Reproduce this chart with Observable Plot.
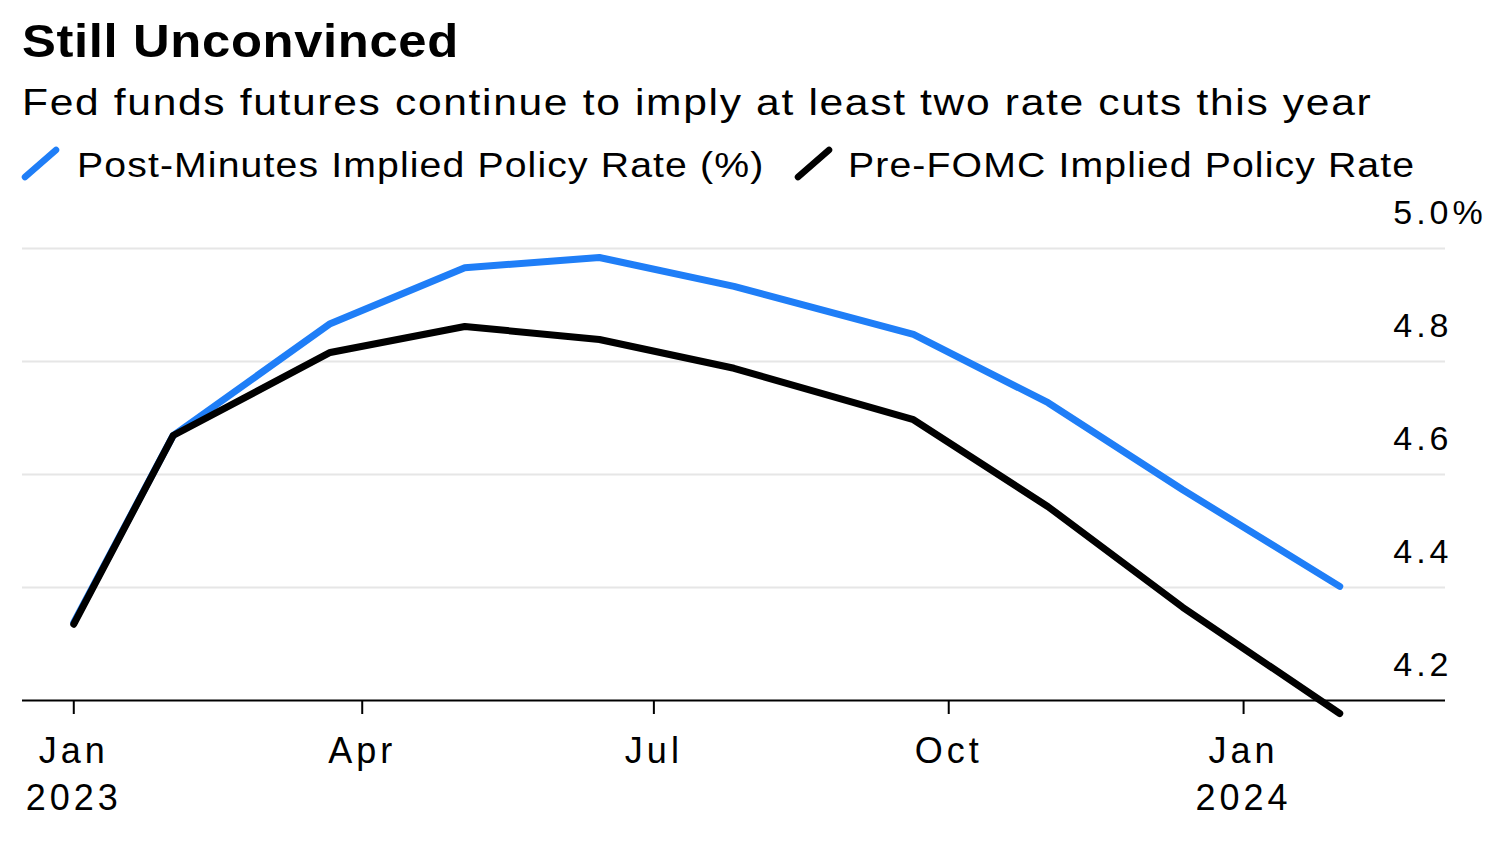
<!DOCTYPE html>
<html>
<head>
<meta charset="utf-8">
<script src="https://cdn.jsdelivr.net/npm/d3@7"></script>
<script src="https://cdn.jsdelivr.net/npm/@observablehq/plot@0.6"></script>
<style>
  html, body { margin: 0; padding: 0; background: #fff; }
  body { width: 1500px; height: 850px; position: relative; overflow: hidden; font-family: "Liberation Sans", Arial, sans-serif; color: #000; }
  .abs { position: absolute; white-space: nowrap; line-height: 1; transform-origin: 0 0; }
  #title { left: 22px; top: 17px; font-size: 47px; font-weight: bold; transform: scaleX(1.08); letter-spacing: 0.6px; }
  #subtitle { left: 22px; top: 84px; font-size: 37px; transform: scaleX(1.15); letter-spacing: 1.45px; }
  .legtext { top: 147px; font-size: 35px; transform: scaleX(1.12); letter-spacing: 1px; }
  .icon { position: absolute; top: 146px; }
  #chart { position: absolute; left: 0; top: 190px; }
</style>
</head>
<body>
<div id="title" class="abs">Still Unconvinced</div>
<div id="subtitle" class="abs">Fed funds futures continue to imply at least two rate cuts this year</div>
<svg class="icon" style="left:20px" width="42" height="36"><line x1="5" y1="31" x2="36" y2="4" stroke="#1f7ef7" stroke-width="6.5" stroke-linecap="round"/></svg>
<div class="abs legtext" style="left:77px">Post-Minutes Implied Policy Rate (%)</div>
<svg class="icon" style="left:793px" width="42" height="36"><line x1="5" y1="31" x2="36" y2="4" stroke="#000" stroke-width="6.5" stroke-linecap="round"/></svg>
<div class="abs legtext" style="left:848px">Pre-FOMC Implied Policy Rate</div>
<div id="chart"></div>
<script>
const dates = ["2023-01-01","2023-02-01","2023-03-22","2023-05-03","2023-06-14","2023-07-26","2023-09-20","2023-11-01","2023-12-13","2024-01-31"];
const postMinutes = [4.338, 4.669, 4.867, 4.966, 4.984, 4.933, 4.848, 4.727, 4.573, 4.402];
const preFOMC = [4.335, 4.669, 4.816, 4.862, 4.839, 4.788, 4.697, 4.543, 4.365, 4.177];
const yTicks = [4.2, 4.4, 4.6, 4.8, 5.0];
const xTicks = ["2023-01-01","2023-04-01","2023-07-01","2023-10-01","2024-01-01"];
const xTickLabels = ["Jan\n2023","Apr","Jul","Oct","Jan\n2024"];
const xDomain = ["2022-12-16","2024-03-04"];

const parse = d3.utcParse("%Y-%m-%d");
const post = dates.map((d, i) => ({date: parse(d), value: postMinutes[i]}));
const pre = dates.map((d, i) => ({date: parse(d), value: preFOMC[i]}));
const tickDates = xTicks.map(parse);

const chart = Plot.plot({
  width: 1500,
  height: 660,
  marginLeft: 22,
  marginRight: 55,
  marginTop: 58,
  marginBottom: 150,
  style: {fontFamily: "'Liberation Sans', Arial, sans-serif", color: "#000", background: "transparent", letterSpacing: "4px"},
  x: {type: "utc", domain: xDomain.map(parse)},
  y: {domain: [4.2, 5.0]},
  marks: [
    Plot.ruleY(yTicks.filter(d => d > 4.2), {stroke: "#e6e6e6", strokeWidth: 2}),
    Plot.ruleY([4.2], {stroke: "#000", strokeWidth: 2}),
    Plot.axisX({ticks: tickDates, tickFormat: (d) => xTickLabels[tickDates.findIndex(t => +t === +d)], tickSize: 14, tickPadding: 15, fontSize: 36, lineHeight: 1.3, strokeWidth: 2, label: null}),
    Plot.axisY({ticks: [], label: null}),
    Plot.text(yTicks, {y: d => d, text: d => d.toFixed(1), frameAnchor: "right", textAnchor: "end", dx: 7, dy: -35, fontSize: 34, fill: "#000"}),
    Plot.text([5.0], {y: d => d, text: () => "%", frameAnchor: "right", textAnchor: "start", dx: 7, dy: -35, fontSize: 34, fill: "#000"}),
    Plot.line(post, {x: "date", y: "value", stroke: "#1f7ef7", strokeWidth: 7, strokeLinecap: "round", strokeLinejoin: "round"}),
    Plot.line(pre, {x: "date", y: "value", stroke: "#000", strokeWidth: 7, strokeLinecap: "round", strokeLinejoin: "round"})
  ]
});
document.getElementById("chart").appendChild(chart);
</script>
</body>
</html>
